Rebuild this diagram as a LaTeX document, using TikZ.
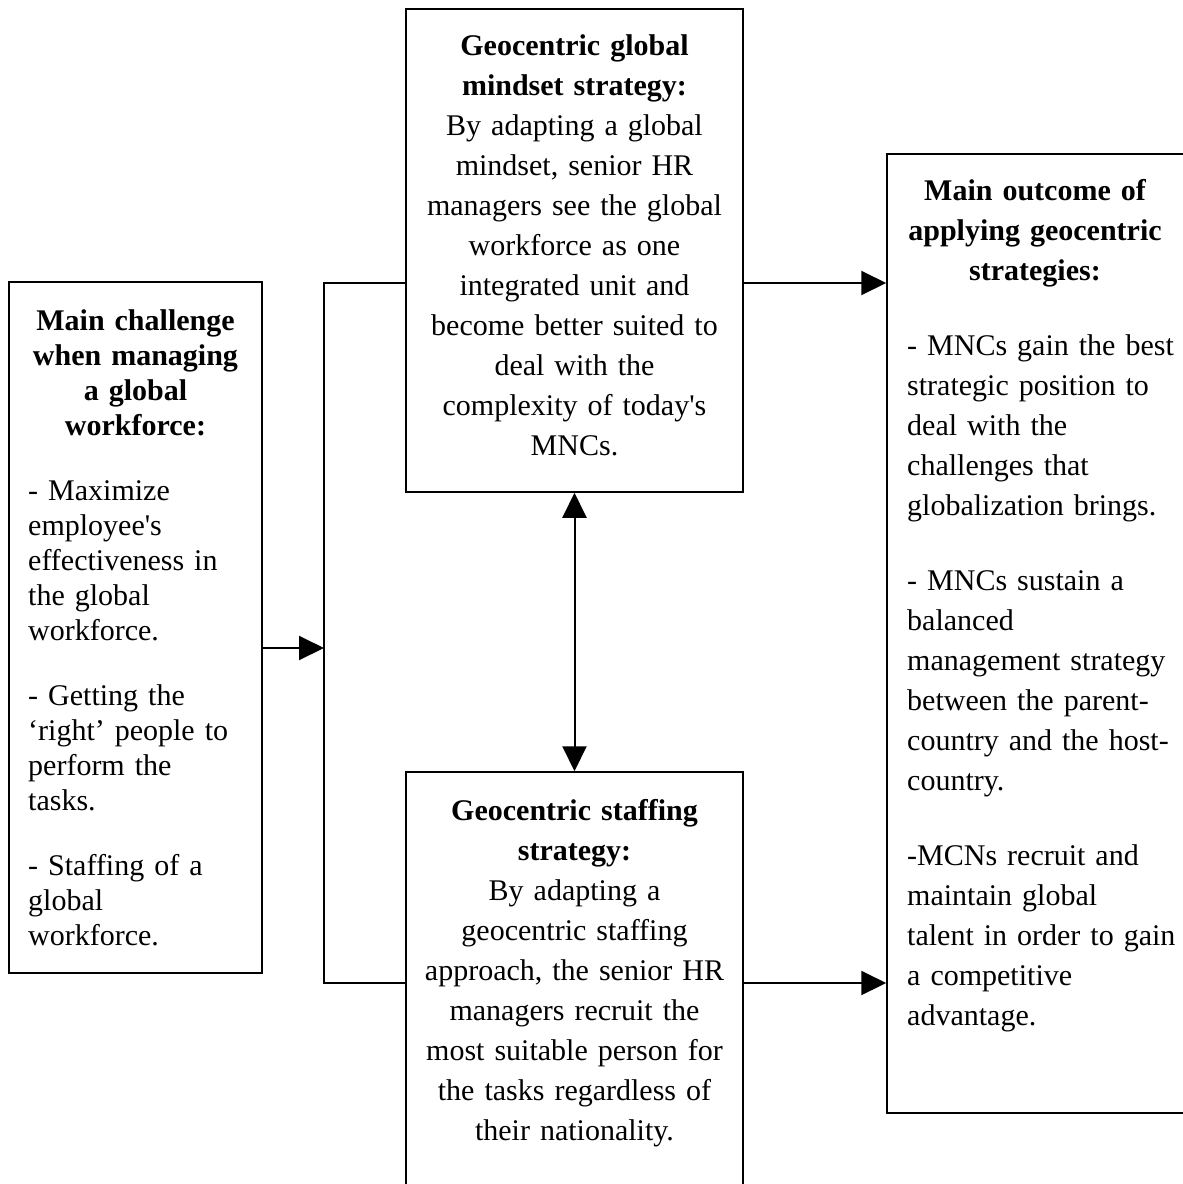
\documentclass[tikz,border=0pt]{standalone}
\usepackage{fontspec}
\setmainfont{Liberation Serif}
\newfontfamily\plainserif{Liberation Serif}
\newcommand{\sq}{{\plainserif'}}
\usetikzlibrary{arrows.meta}

\begin{document}
\begin{tikzpicture}[x=1pt,y=-1pt,>={Triangle[length=25pt,width=24pt]},
    box/.style={draw,line width=1.5pt,inner sep=0pt},
    txt/.style={inner sep=0pt,anchor=base,font=\fontsize{30}{40}\selectfont},
    link/.style={line width=2pt}]
    \useasboundingbox (0,0) rectangle (1183,1184);

    % boxes
    \node[box,minimum width=253pt,minimum height=691pt] (chal) at (135.5,627.5) {};
    \node[box,minimum width=337pt,minimum height=483pt] (mindset) at (574.5,250.5) {};
    \node[box,minimum width=337pt,minimum height=428pt] (staff) at (574.5,986) {};
    \node[box,minimum width=299pt,minimum height=959pt] (outcome) at (1036.5,633.5) {};

    % texts
    \node[txt,text width=240pt,align=center,font=\fontsize{30}{35}\selectfont\bfseries] (chaltitle) at (135.5,330)
        {Main challenge\\when managing\\a global\\workforce:};
    \node[txt,anchor=base west,text width=232pt,align=left,font=\fontsize{30}{35}\selectfont] (chalbody) at (28,500)
        {- Maximize\\employee\sq s\\effectiveness in\\the global\\workforce.\\[30pt]%
         - Getting the\\‘right’ people to\\perform the\\tasks.\\[30pt]%
         - Staffing of a\\global\\workforce.};
    \node[txt,text width=330pt,align=center] (mindtext) at (574.5,55)
        {\textbf{Geocentric global}\\\textbf{mindset strategy:}\\By adapting a global\\mindset, senior HR\\managers see the global\\workforce as one\\integrated unit and\\become better suited to\\deal with the\\complexity of today\sq s\\MNCs.};
    \node[txt,text width=330pt,align=center] (stafftext) at (574.5,820)
        {\textbf{Geocentric staffing}\\\textbf{strategy:}\\By adapting a\\geocentric staffing\\approach, the senior HR\\managers recruit the\\most suitable person for\\the tasks regardless of\\their nationality.};
    \node[txt,text width=290pt,align=center,font=\fontsize{30}{40}\selectfont\bfseries] (outtitle) at (1035,200)
        {Main outcome of\\applying geocentric\\strategies:};
    \node[txt,anchor=base west,text width=270pt,align=left] (outbody) at (907,355)
        {- MNCs gain the best\\strategic position to\\deal with the\\challenges that\\globalization brings.\\[35pt]%
         - MNCs sustain a\\balanced\\management strategy\\between the parent-\\country and the host-\\country.\\[35pt]%
         -MCNs recruit and\\maintain global\\talent in order to gain\\a competitive\\advantage.};

    % connectors
    \coordinate (split) at (324,648);
    \coordinate (brtop) at (324,283);
    \coordinate (brbot) at (324,983);
    \draw[link] (mindset.west |- brtop) -- (brtop) -- (brbot) -- (staff.west |- brbot);
    \draw[link,->] (chal.east |- split) -- (split);
    \draw[link,->] (mindset.east |- brtop) -- (outcome.west |- brtop);
    \draw[link,->] (staff.east |- brbot) -- (outcome.west |- brbot);
    \draw[link,<->] (mindset.south) -- (staff.north);
\end{tikzpicture}
\end{document}
